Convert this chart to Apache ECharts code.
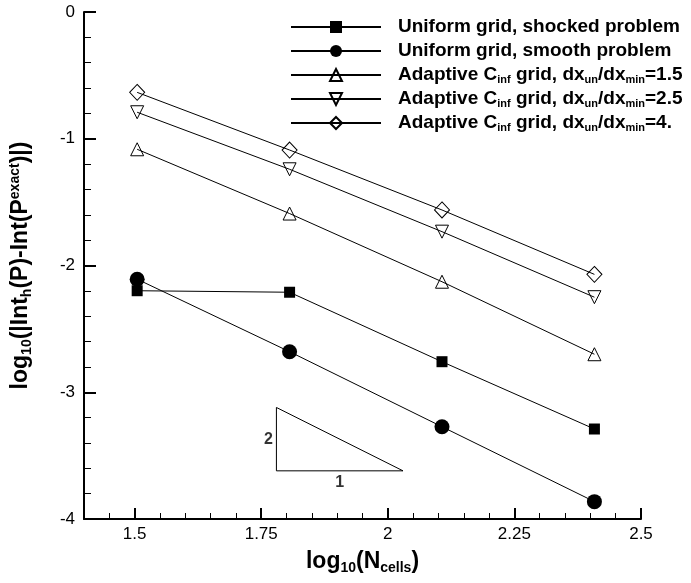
<!DOCTYPE html>
<html>
<head>
<meta charset="utf-8">
<script src="https://cdn.jsdelivr.net/npm/echarts@6/dist/echarts.min.js"></script>
<style>
  html, body { margin: 0; padding: 0; background: #fff; }
  #chart { width: 691px; height: 583px; }
</style>
</head>
<body>
<div id="chart"></div>
<script>
// log10 of the number of cells (32, 64, 128, 256)
const logN = [1.505, 1.806, 2.107, 2.408];

// log10 of the integral error for each run
const shocked   = [-2.199, -2.211, -2.759, -3.29];
const smooth    = [-2.108, -2.68, -3.272, -3.863];
const adapt15   = [-1.083, -1.59, -2.128, -2.70];
const adapt25   = [-0.791, -1.241, -1.733, -2.25];
const adapt40   = [-0.634, -1.089, -1.562, -2.07];

const seriesNames = [
  'Uniform grid, shocked problem',
  'Uniform grid, smooth problem',
  'Adaptive C{sub|inf} grid, dx{sub|un}/dx{sub|min}=1.5',
  'Adaptive C{sub|inf} grid, dx{sub|un}/dx{sub|min}=2.5',
  'Adaptive C{sub|inf} grid, dx{sub|un}/dx{sub|min}=4.'
];

// axis ticks
const xMajorTicks = [1.5, 1.75, 2, 2.25, 2.5];
const xMinorTicks = [1.4, 1.45, 1.55, 1.6, 1.65, 1.7, 1.8, 1.85, 1.9, 1.95,
                     2.05, 2.1, 2.15, 2.2, 2.3, 2.35, 2.4, 2.45];
const yMajorTicks = [-4, -3, -2, -1, 0];
const yMinorTicks = [-3.8, -3.6, -3.4, -3.2, -2.8, -2.6, -2.4, -2.2,
                     -1.8, -1.6, -1.4, -1.2, -0.8, -0.6, -0.4, -0.2];

// slope-2 reference triangle (x, y) and its side labels
const slopeTriangle = [[1.78, -3.62], [1.78, -3.12], [2.03, -3.62], [1.78, -3.62]];
const slopeLabels = [
  { value: [1.78, -3.37], text: '2', pos: 'left' },
  { value: [1.905, -3.62], text: '1', pos: 'bottom' }
];

const FONT = '"Liberation Sans", Arial, Helvetica, sans-serif';

const richLegend = {
  sub: { fontSize: 11, fontWeight: 'bold', fontFamily: FONT, color: '#000',
         verticalAlign: 'bottom', lineHeight: 20 }
};

function pairs(ys) { return logN.map((x, i) => [x, ys[i]]); }

function curve(name, ys, symbol, size, filled, rotate) {
  return {
    type: 'line',
    name: name,
    data: pairs(ys),
    symbol: symbol,
    symbolSize: size,
    symbolRotate: rotate || 0,
    showAllSymbol: true,
    lineStyle: { color: '#000', width: 1 },
    itemStyle: filled
      ? { color: '#000', borderColor: '#000', borderWidth: 0 }
      : { color: 'rgba(0,0,0,0)', borderColor: '#000', borderWidth: 1 },
    emphasis: { disabled: true },
    z: 3
  };
}

const axisFont = { fontFamily: FONT, fontSize: 17, color: '#000' };

const chart = echarts.init(document.getElementById('chart'), null, { renderer: 'canvas' });

chart.setOption({
  animation: false,
  backgroundColor: '#fff',
  grid: { left: 84, right: 50, top: 12, bottom: 64, containLabel: false },
  legend: {
    orient: 'vertical',
    left: 290,
    top: 17,
    padding: 0,
    itemWidth: 90,
    itemHeight: 15,
    itemGap: 4,
    data: seriesNames,
    formatter: n => n,
    textStyle: {
      fontFamily: FONT, fontWeight: 'bold', fontSize: 19, color: '#000',
      lineHeight: 20, padding: [0, 0, 0, 12], rich: richLegend
    },
    selectedMode: false
  },
  xAxis: [
    {
      type: 'value', min: 1.4, max: 2.5, position: 'bottom',
      axisLine: { onZero: false, lineStyle: { color: '#000', width: 2 } },
      axisTick: { inside: true, length: 11, customValues: xMajorTicks,
                  lineStyle: { color: '#000', width: 2 } },
      axisLabel: { customValues: xMajorTicks, formatter: v => String(v),
                   margin: 7, ...axisFont },
      splitLine: { show: false },
      name: 'log{sub|10}(N{sub|cells})',
      nameLocation: 'middle',
      nameGap: 30,
      nameTextStyle: {
        fontFamily: FONT, fontWeight: 'bold', fontSize: 23, color: '#000', lineHeight: 26,
        rich: { sub: { fontFamily: FONT, fontWeight: 'bold', fontSize: 14, color: '#000',
                       verticalAlign: 'bottom', lineHeight: 26 } }
      }
    },
    {
      // minor ticks along the bottom axis
      type: 'value', min: 1.4, max: 2.5, position: 'bottom',
      axisLine: { show: false, onZero: false },
      axisTick: { inside: true, length: 6, customValues: xMinorTicks,
                  lineStyle: { color: '#000', width: 1 } },
      axisLabel: { show: false },
      splitLine: { show: false }
    }
  ],
  yAxis: [
    {
      type: 'value', min: -4, max: 0, position: 'left',
      axisLine: { show: true, onZero: false, lineStyle: { color: '#000', width: 2 } },
      axisTick: { show: true, inside: true, length: 12, customValues: yMajorTicks,
                  lineStyle: { color: '#000', width: 2 } },
      axisLabel: { customValues: yMajorTicks, formatter: v => String(v),
                   margin: 9, ...axisFont },
      splitLine: { show: false },
      name: 'log{sub|10}(|Int{sub|h}(P)-Int(P{sup|exact})|)',
      nameLocation: 'middle',
      nameRotate: 90,
      nameGap: 50,
      nameTextStyle: {
        fontFamily: FONT, fontWeight: 'bold', fontSize: 23, color: '#000', lineHeight: 26,
        rich: {
          sub: { fontFamily: FONT, fontWeight: 'bold', fontSize: 14, color: '#000',
                 verticalAlign: 'bottom', lineHeight: 26 },
          sup: { fontFamily: FONT, fontWeight: 'bold', fontSize: 14, color: '#000',
                 verticalAlign: 'top', lineHeight: 26 }
        }
      }
    },
    {
      // minor ticks along the left axis
      type: 'value', min: -4, max: 0, position: 'left',
      axisLine: { show: false, onZero: false },
      axisTick: { show: true, inside: true, length: 7, customValues: yMinorTicks,
                  lineStyle: { color: '#000', width: 1 } },
      axisLabel: { show: false },
      splitLine: { show: false }
    }
  ],
  series: [
    curve(seriesNames[0], shocked, 'rect', 11, true),
    curve(seriesNames[1], smooth, 'circle', 15, true),
    curve(seriesNames[2], adapt15, 'triangle', 13, false),
    curve(seriesNames[3], adapt25, 'triangle', 13, false, 180),
    curve(seriesNames[4], adapt40, 'diamond', [15, 16], false),
    {
      type: 'line',
      name: 'slope',
      data: slopeTriangle,
      symbol: 'none',
      lineStyle: { color: '#000', width: 1 },
      silent: true,
      z: 2
    },
    {
      type: 'scatter',
      name: 'slopeText',
      data: slopeLabels.map(d => ({ value: d.value, text: d.text,
        label: { position: d.pos } })),
      symbolSize: 1,
      itemStyle: { color: 'rgba(0,0,0,0)' },
      label: {
        show: true, formatter: p => p.data.text, distance: 3,
        fontFamily: FONT, fontWeight: 'bold', fontSize: 16, color: '#000'
      },
      silent: true
    }
  ]
});
</script>
</body>
</html>
